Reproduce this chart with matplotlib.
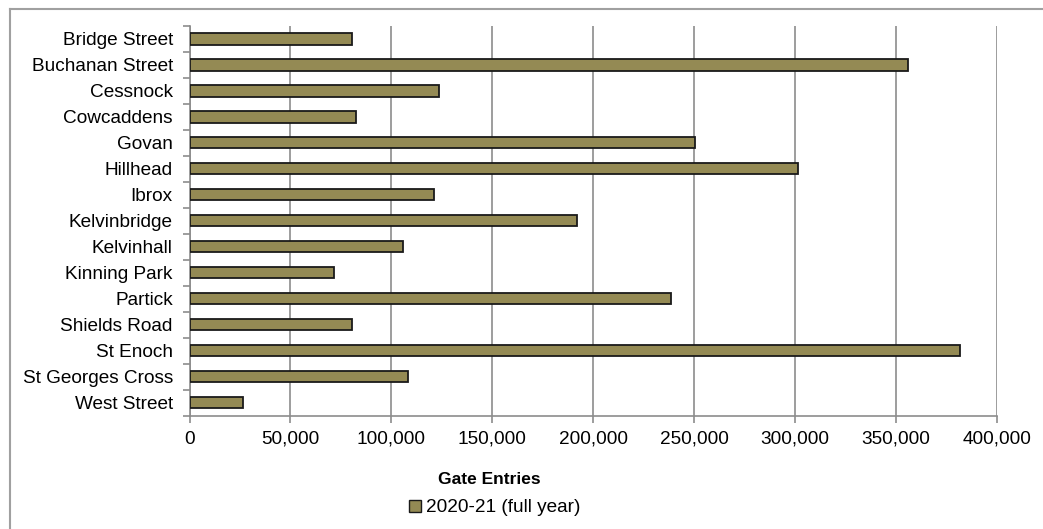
import matplotlib
matplotlib.use("Agg")
import matplotlib.pyplot as plt
from matplotlib.lines import Line2D
from matplotlib.patches import Patch
from matplotlib.ticker import FuncFormatter, FixedLocator

plt.rcParams['font.family'] = ['Liberation Sans', 'DejaVu Sans']

stations = ["Bridge Street", "Buchanan Street", "Cessnock", "Cowcaddens", "Govan",
            "Hillhead", "Ibrox", "Kelvinbridge", "Kelvinhall", "Kinning Park",
            "Partick", "Shields Road", "St Enoch", "St Georges Cross", "West Street"]
entries = [80300, 355800, 123700, 82400, 250400,
           301300, 121400, 191800, 106000, 71400,
           238700, 80600, 381700, 108500, 26500]
series_name = "2020-21 (full year)"
x_title = "Gate Entries"
x_ticks = [0, 50000, 100000, 150000, 200000, 250000, 300000, 350000, 400000]

W, H = 1043, 529
fig = plt.figure(figsize=(W / 100, H / 100), dpi=100)
ax = fig.add_axes([189.5 / W, 1 - 415.7 / H, (996.7 - 189.5) / W, (415.7 - 26) / H])

bar_color = "#948A54"
grey = "#8c8c8c"
ypos = list(range(len(stations)))
ax.barh(ypos, entries, height=0.43, color=bar_color, edgecolor="#1a1a1a", linewidth=1.3, zorder=3)

ax.set_xlim(0, 400000)
ax.set_ylim(len(stations) - 0.5, -0.5)
ax.set_xticks(x_ticks)
ax.xaxis.set_major_formatter(FuncFormatter(lambda v, p: f"{int(v):,}"))
ax.grid(axis="x", color=grey, linewidth=1.2, zorder=0)

ax.set_yticks(ypos)
ax.set_yticklabels(stations)
ax.yaxis.set_minor_locator(FixedLocator([i - 0.5 for i in range(len(stations) + 1)]))
ax.tick_params(axis="y", which="major", length=0, pad=12, labelsize=13.7, colors="black")
ax.tick_params(axis="y", which="minor", length=5, width=1.2, color=grey, direction="out")
ax.tick_params(axis="x", which="major", length=5, width=1.2, color=grey, pad=6, labelsize=13.7)

for side in ["top", "right"]:
    ax.spines[side].set_visible(False)
for side in ["left", "bottom"]:
    ax.spines[side].set_color(grey)
    ax.spines[side].set_linewidth(1.2)

fig.text(489 / W, 1 - 480 / H, x_title, ha="center", va="center", fontsize=12.5, fontweight="bold")

handle = Patch(facecolor=bar_color, edgecolor="#1a1a1a", linewidth=1.0)
leg = fig.legend([handle], [series_name], loc="center", bbox_to_anchor=(495 / W, 1 - 508 / H),
                 frameon=False, fontsize=13.7, handlelength=0.6, handleheight=0.6,
                 handletextpad=0.3, borderaxespad=0)

# outer chart border (top and left visible)
fig.add_artist(Line2D([9.5 / W, 1.0], [1 - 8.5 / H, 1 - 8.5 / H], transform=fig.transFigure,
                      color="#a0a0a0", linewidth=1.5))
fig.add_artist(Line2D([9.5 / W, 9.5 / W], [0, 1 - 8.5 / H], transform=fig.transFigure,
                      color="#a0a0a0", linewidth=1.5))

fig.savefig("out.png", dpi=100)
